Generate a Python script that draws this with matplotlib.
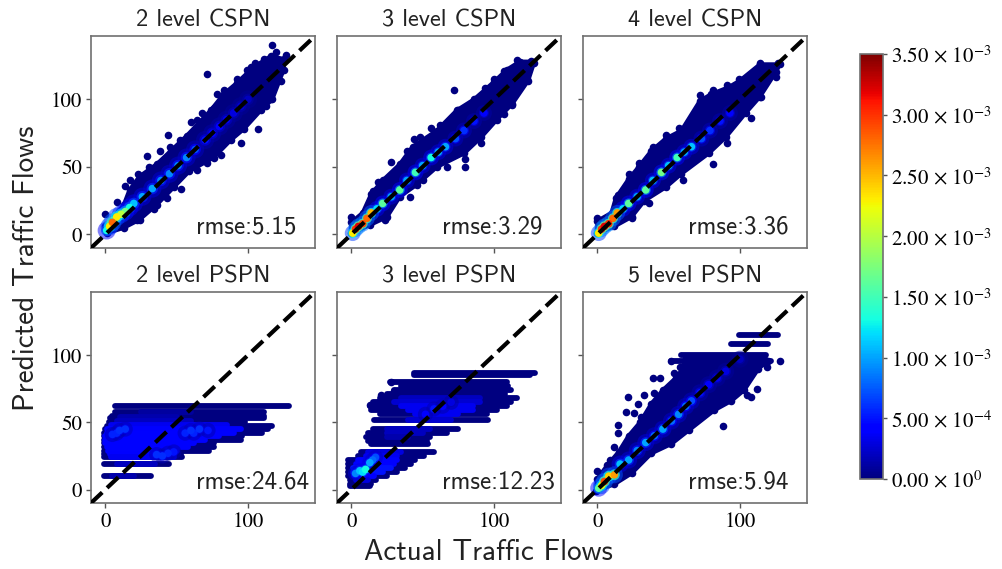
import matplotlib
matplotlib.use("Agg")
import matplotlib.pyplot as plt
from matplotlib import cm
from matplotlib.colors import Normalize

plt.rcParams["mathtext.fontset"] = "stix"
plt.rcParams["axes.unicode_minus"] = False

# values
diag = [-10, 147]
yticks = [0, 50, 100]
xticks = [0, 100]
cbar_ticks = [0, 5e-4, 1e-3, 1.5e-3, 2e-3, 2.5e-3, 3e-3, 3.5e-3]
cbar_labels = [r"$0.00\,\times\,10^{0}$", r"$5.00\,\times\,10^{-4}$", r"$1.00\,\times\,10^{-3}$",
               r"$1.50\,\times\,10^{-3}$", r"$2.00\,\times\,10^{-3}$", r"$2.50\,\times\,10^{-3}$",
               r"$3.00\,\times\,10^{-3}$", r"$3.50\,\times\,10^{-3}$"]

titles = ["2 level CSPN", "3 level CSPN", "4 level CSPN",
          "2 level PSPN", "3 level PSPN", "5 level PSPN"]
rmse = ["5.15", "3.29", "3.36", "24.64", "12.23", "5.94"]

# 2 level CSPN
c2_up_x = [0, 13, 17, 24, 36, 46, 57, 74, 83, 92, 104, 116, 125]
c2_up_y = [6, 22, 33, 43, 52, 62, 73, 92, 104, 112, 124, 132, 130]
c2_lo_x = [1, 13, 24, 36, 48, 59, 76, 88, 97, 109, 117, 125]
c2_lo_y = [1, 5, 11, 22, 35, 47, 57, 70, 78, 92, 100, 122]
c2_pts_x = [71.5, 117, 0, 13.5, 17.5, 23, 29, 38.5, 44, 45.5, 52.5, 60, 64, 76, 78, 83, 92, 99, 105, 111, 127,
            123, 123, 116, 113, 107, 95, 88, 81, 71, 64, 53, 43, 34, 22, 120, 8, 31, 68, 102]
c2_pts_y = [119, 140, 15, 36, 40, 45, 58, 62, 74, 65, 70, 83, 85, 94, 104, 107, 115, 122, 127, 130, 133,
            121, 114, 100, 95, 78, 68, 75, 59, 53, 48, 34, 27, 19, 11, 135, 24, 50, 90, 124]
c2_core_x = [1, 3, 5, 8, 11, 14, 17, 20, 26, 33, 39, 45, 51, 57, 63, 70, 75, 80, 85, 90, 95, 100]
c2_core_y = [3, 6, 9, 13, 15, 17, 20, 23, 28, 34, 40, 45, 51, 57, 63, 70, 75, 80, 85, 90, 95, 100]
c2_core_d = [1.3e-3, 2.3e-3, 2.8e-3, 2.3e-3, 2.0e-3, 1.7e-3, 1.3e-3, 1.1e-3, 1.0e-3, 1.0e-3, 9e-4, 9e-4, 9e-4, 9e-4,
             7e-4, 5e-4, 4.5e-4, 4e-4, 3.5e-4, 3e-4, 2.5e-4, 2e-4]

# 3 level CSPN
c3_up_x = [0, 8, 14, 22, 34, 43, 60, 74, 86, 100, 109, 118, 127]
c3_up_y = [9, 16, 30, 40, 52, 65, 77, 92, 100, 113, 122, 128, 128]
c3_lo_x = [0, 13, 25, 34, 46, 60, 79, 91, 102, 113, 124, 128]
c3_lo_y = [1, 7, 13, 28, 37, 50, 60, 72, 85, 97, 114, 127]
c3_pts_x = [0, 15, 19, 28, 39, 44, 48, 56, 62, 72, 75, 84, 94, 100, 107, 116, 126,
            123.5, 113, 107, 90.6, 80, 79.5, 67, 50.6, 41, 23.5, 31, 52, 88]
c3_pts_y = [13, 32, 39, 54, 62, 71, 72, 79, 81, 107, 92, 97.5, 108.7, 115, 121, 129, 128.5,
            115, 96, 89, 68, 50, 56, 50, 40, 28, 11, 46, 64, 100]
c3_core_x = [1, 3, 5, 8, 11, 14, 18, 22, 28, 34, 39, 45, 50, 56, 61, 66, 73, 79, 86, 93]
c3_core_y = [1, 4, 6, 8, 12, 16, 19, 23, 28, 33, 40, 46, 51, 57, 61, 65, 71, 77, 84, 90]
c3_core_d = [2.3e-3, 3.0e-3, 3.2e-3, 2.9e-3, 2.8e-3, 2.5e-3, 1.2e-3, 1.6e-3, 1.0e-3, 1.6e-3, 1.0e-3, 1.5e-3, 1.0e-3, 1.3e-3,
             1.0e-3, 1.0e-3, 7e-4, 6e-4, 5e-4, 4e-4]

# 4 level CSPN
c4_up_x = [0, 10, 13, 22, 29, 38, 48, 59, 72, 80, 92, 100, 114, 128]
c4_up_y = [10, 16, 27, 41, 50, 62, 71, 77, 99, 104, 109, 114, 126, 126]
c4_lo_x = [0, 12, 24, 33, 48, 59, 78, 90, 104, 114, 125]
c4_lo_y = [1, 6, 13, 25, 35, 45, 60, 72, 90, 102, 120]
c4_pts_x = [0, 14.6, 22, 29, 39, 48, 57, 72, 81, 76, 91, 99.5, 114, 127,
            125.5, 115, 108, 91, 81, 60, 50, 36, 24, 18, 66, 105]
c4_pts_y = [12, 29, 45, 53, 65, 74, 79, 103, 107, 95, 111, 115, 127, 127,
            117, 102, 86, 68, 52, 40, 43, 23, 12, 33, 80, 116]
c4_core_x = [1, 3, 5, 8, 11, 14, 18, 22, 28, 34, 39, 45, 50, 56, 61, 66, 73, 79, 86, 93]
c4_core_y = [1, 4, 6, 8, 12, 16, 19, 23, 28, 33, 40, 46, 51, 57, 61, 65, 71, 77, 84, 90]
c4_core_d = [2.3e-3, 3.0e-3, 3.2e-3, 3.0e-3, 2.8e-3, 2.6e-3, 1.2e-3, 1.6e-3, 1.0e-3, 1.6e-3, 1.1e-3, 1.7e-3, 1.1e-3, 1.5e-3,
             1.0e-3, 1.1e-3, 7e-4, 6e-4, 5e-4, 4e-4]

# 2 level PSPN, predictions fall on rows
p2_row_y = [62, 57.5, 55, 53, 50.5, 47.5, 45, 42, 39.5, 37, 34.5, 32, 29, 26.5, 24, 19, 10]
p2_row_a = [7, 7, 5, 3, 2.5, 1, 0, -1, -1, -1, -1, -1, -1, -1, -1, -1, -1]
p2_row_b = [129, 111, 111, 111, 98, 117, 114, 110, 96, 95, 76, 76, 73, 53, 54, 45, 32]
p2_sh_y = [57.5, 54, 51, 48, 45, 42, 39.5, 37, 34.5, 32, 29, 26.5, 24, 19, 10]
p2_sh_a = [25, 10, 8, 4, 1, 1, 0, 0, 0, 1, 2, 3, 4, 8, 5]
p2_sh_b = [60, 50, 60, 85, 95, 90, 80, 70, 62, 58, 50, 48, 48, 35, 20]
p2_sh_d = [1e-4, 1.5e-4, 2e-4, 3.5e-4, 4e-4, 4.5e-4, 4.5e-4, 4.5e-4, 4.5e-4, 4.5e-4, 4.5e-4, 4e-4, 3.5e-4, 2e-4, 1.5e-4]
p2_glow_x = [5, 10, 14, 8, 36, 40, 44, 48, 56, 60, 66, 72, 62]
p2_glow_y = [41, 44, 45, 42, 26, 25, 27, 28, 42, 44, 45, 44, 42]
p2_glow_d = [5.5e-4, 6e-4, 6e-4, 5.5e-4, 6e-4, 6e-4, 5.5e-4, 5e-4, 5.5e-4, 6e-4, 6e-4, 5e-4, 5.5e-4]

# 3 level PSPN
p3_row_y = [87, 85, 80, 77, 74, 71, 68, 65, 62, 59, 56.5, 51.5, 45, 42, 39, 36, 34, 28, 25, 22, 19, 16, 13, 10, 7, 4, 2.5]
p3_row_a = [44, 44, 27, 35, 30, 25, 20, 15, 13, 14, 20, 16, 15, 12, 10, 12, 14, 7, 5, -2, -2, -2, -2, -2, -1, -1, -1]
p3_row_b = [129, 125, 109, 110, 112, 108, 116, 112, 109, 102, 95, 96, 75, 67, 55, 53, 54, 58, 51, 45, 42, 38, 32, 25, 17, 14, 13]
p3_sh_y = [68, 65, 62, 59, 56.5, 51.5, 45, 42, 39, 28, 25, 22, 19, 16, 13, 10, 7]
p3_sh_a = [35, 30, 35, 40, 45, 40, 25, 25, 25, 12, 10, 5, 3, 1, 1, 2, 3]
p3_sh_b = [90, 90, 85, 85, 75, 70, 55, 50, 40, 35, 32, 32, 30, 28, 22, 16, 12]
p3_sh_d = [2e-4, 2.5e-4, 3.5e-4, 3.5e-4, 3.5e-4, 2.5e-4, 2e-4, 2e-4, 1.5e-4, 3e-4, 3.5e-4, 4.5e-4, 4.5e-4, 5e-4, 5e-4, 4e-4, 3e-4]
p3_pts_x = [21, 15, 28, 30, 20, 13, 24]
p3_pts_y = [70, 62, 80, 73, 66, 63, 69]
p3_glow_x = [3, 6, 8, 10, 13, 15, 17, 52, 58, 64, 70]
p3_glow_y = [12, 14, 13, 15, 20, 22, 24, 56, 60, 62, 65]
p3_glow_d = [9e-4, 1.1e-3, 1.2e-3, 1.3e-3, 1.0e-3, 8e-4, 7e-4, 4e-4, 5e-4, 4.5e-4, 3e-4]

# 5 level PSPN
p5_up_x = [0, 7, 15, 22, 30, 38, 46, 55, 60, 62, 100]
p5_up_y = [8, 18, 28, 40, 50, 64, 74, 83, 90, 98, 99]
p5_lo_x = [-1, 12, 24, 38, 52, 64, 82, 94, 103, 113, 120, 116]
p5_lo_y = [-1, 4, 12, 27, 34, 44, 59, 66, 74, 90, 96, 99]
p5_row_y = [115, 108, 100, 96]
p5_row_a = [99, 94, 59, 52]
p5_row_b = [127, 120, 118, 122]
p5_pts_x = [0, 9, 12, 14.5, 21.5, 28.5, 20, 39, 44, 52, 54, 40, 31, 14.5, 88, 128, 119, 105, 108, 100, 33, 58, 33, 26, 112]
p5_pts_y = [14, 22, 32, 48, 69, 64, 58, 83, 83, 96, 87, 72, 54, 42, 47, 96, 91, 70, 69, 77, 70, 91, 46, 57, 75]
p5_core_x = [1, 3, 5, 8, 12, 16, 22, 28, 34, 40, 46, 52, 57, 62, 66, 72, 78, 84, 90, 100]
p5_core_y = [1, 3, 6, 10, 11, 19, 22, 29, 35, 40, 45, 51, 56, 62, 66, 72, 78, 83, 88, 97]
p5_core_d = [1.6e-3, 2.2e-3, 2.9e-3, 2.4e-3, 2.6e-3, 1.1e-3, 1.0e-3, 9e-4, 1.0e-3, 8e-4, 1.0e-3, 8e-4, 9e-4, 8e-4,
             7e-4, 5e-4, 4e-4, 3.5e-4, 3e-4, 2e-4]

norm = Normalize(0, 3.5e-3)
navy = cm.jet(norm(0))


def body(ax, up_x, up_y, lo_x, lo_y, pts_x, pts_y):
    """dark mass of the cloud, outline plus stray points"""
    ax.fill(up_x + lo_x[::-1], up_y + lo_y[::-1], color=navy, lw=3, zorder=2)
    ax.scatter(up_x + lo_x + pts_x, up_y + lo_y + pts_y, s=30, color=navy, lw=0, zorder=2)


def rows(ax, row_y, row_a, row_b):
    for y, a, b in zip(row_y, row_a, row_b):
        ax.plot([a, b], [y, y], color=navy, lw=4.2, solid_capstyle="round", zorder=2)


def shade(ax, row_y, row_a, row_b, row_d):
    for y, a, b, d in zip(row_y, row_a, row_b, row_d):
        ax.plot([a, b], [y, y], color=cm.jet(norm(d)), lw=4.2, solid_capstyle="round", zorder=2.5)


def glow(ax, xs, ys, ds, big=130):
    """soft halo round the dense points, coloured by density"""
    order = sorted(range(len(ds)), key=lambda i: ds[i])
    xs = [xs[i] for i in order]
    ys = [ys[i] for i in order]
    ds = [ds[i] for i in order]
    ax.scatter(xs, ys, s=big, c=[d * 0.28 for d in ds], cmap="jet", norm=norm, lw=0, alpha=0.5, zorder=3)
    ax.scatter(xs, ys, s=big * 0.4, c=[d * 0.55 for d in ds], cmap="jet", norm=norm, lw=0, alpha=0.7, zorder=3)
    ax.scatter(xs, ys, s=30, c=ds, cmap="jet", norm=norm, lw=0, zorder=3)


fig = plt.figure(figsize=(10.03, 5.69), dpi=100)
W, H = 1003.0, 569.0
lefts = [91, 337, 583]
axs = []
for r, (top, bottom) in enumerate([(36, 248), (292, 503)]):
    for c, left in enumerate(lefts):
        ax = fig.add_axes([left / W, 1 - bottom / H, 224 / W, (bottom - top) / H])
        axs.append(ax)

body(axs[0], c2_up_x, c2_up_y, c2_lo_x, c2_lo_y, c2_pts_x, c2_pts_y)
glow(axs[0], c2_core_x, c2_core_y, c2_core_d, big=170)
body(axs[1], c3_up_x, c3_up_y, c3_lo_x, c3_lo_y, c3_pts_x, c3_pts_y)
glow(axs[1], c3_core_x, c3_core_y, c3_core_d)
body(axs[2], c4_up_x, c4_up_y, c4_lo_x, c4_lo_y, c4_pts_x, c4_pts_y)
glow(axs[2], c4_core_x, c4_core_y, c4_core_d)
rows(axs[3], p2_row_y, p2_row_a, p2_row_b)
shade(axs[3], p2_sh_y, p2_sh_a, p2_sh_b, p2_sh_d)
glow(axs[3], p2_glow_x, p2_glow_y, p2_glow_d, big=120)
rows(axs[4], p3_row_y, p3_row_a, p3_row_b)
shade(axs[4], p3_sh_y, p3_sh_a, p3_sh_b, p3_sh_d)
axs[4].scatter(p3_pts_x, p3_pts_y, s=30, color=navy, lw=0, zorder=2)
glow(axs[4], p3_glow_x, p3_glow_y, p3_glow_d, big=120)
body(axs[5], p5_up_x, p5_up_y, p5_lo_x, p5_lo_y, p5_pts_x, p5_pts_y)
rows(axs[5], p5_row_y, p5_row_a, p5_row_b)
glow(axs[5], p5_core_x, p5_core_y, p5_core_d, big=150)

for i, ax in enumerate(axs):
    ax.plot(diag, diag, "--", color="k", lw=3, zorder=5)
    ax.set_xlim(diag)
    ax.set_ylim(diag)
    ax.set_xticks(xticks)
    ax.set_yticks(yticks)
    ax.tick_params(colors="#555555", labelcolor="k", length=3.5, width=1, labelsize=15, pad=3)
    for s in ax.spines.values():
        s.set_color("#707070")
        s.set_linewidth(1.2)
    if i < 3:
        ax.set_xticklabels([])
    else:
        ax.set_xticklabels(xticks, family="STIXGeneral")
    if i % 3:
        ax.set_yticklabels([])
    else:
        ax.set_yticklabels(yticks, family="STIXGeneral")
    ax.set_title(titles[i], family="cmss10", fontsize=17.5, pad=6.5, color="#222222")
    ax.text(0.47, 0.068, "rmse:" + rmse[i], transform=ax.transAxes, family="cmss10",
            fontsize=18, color="#222222", zorder=6)

fig.text(488 / W, 1 - 553 / H, "Actual Traffic Flows", family="cmss10", fontsize=21,
         ha="center", va="center", color="#222222")
fig.text(27 / W, 1 - 268 / H, "Predicted Traffic Flows", family="cmss10", fontsize=21,
         rotation=90, ha="center", va="center", color="#222222")

cax = fig.add_axes([860 / W, 1 - 479 / H, 23 / W, 425 / H])
cb = fig.colorbar(cm.ScalarMappable(norm=norm, cmap="jet"), cax=cax)
cb.set_ticks(cbar_ticks)
cb.set_ticklabels(cbar_labels)
cb.ax.tick_params(labelsize=15, length=3, width=1, color="#555555", pad=3)
cb.outline.set_edgecolor("#707070")
cb.outline.set_linewidth(1.2)

fig.savefig("out.png", dpi=100)
